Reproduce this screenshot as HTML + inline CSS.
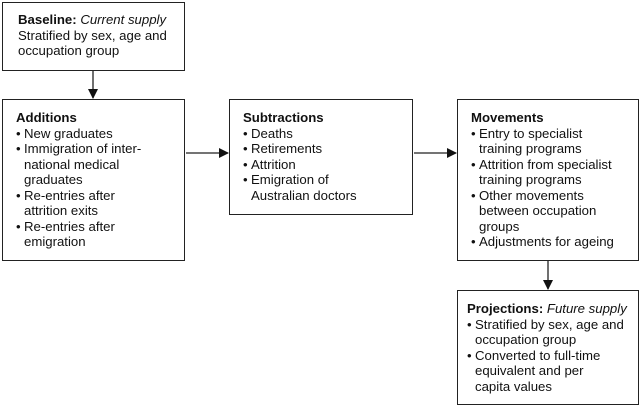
<!DOCTYPE html>
<html><head><style>
body{margin:0;width:640px;height:406px;background:#fff;position:relative;font-family:"Liberation Sans",Arial,sans-serif;font-size:13.2px;color:#111;overflow:hidden}
.b{position:absolute;border:1.3px solid #222;box-sizing:border-box;line-height:15.5px;padding:0 0 0 13px;white-space:nowrap}
.b p{margin:0}
ul{margin:0;padding:0;list-style:none}
li{padding-left:8px;text-indent:-8px}
li:before{content:"\2022";display:inline-block;width:8px;text-indent:0}
svg{position:absolute;left:0;top:0}
</style></head><body>
<svg width="640" height="406">
<defs><marker id="a" markerWidth="10" markerHeight="10" refX="9" refY="5" orient="auto" markerUnits="userSpaceOnUse"><path d="M0,0 L10,5 L0,10 z" fill="#111"/></marker></defs>
<g stroke="#222" stroke-width="1.3">
<line x1="93" y1="70" x2="93" y2="98" marker-end="url(#a)"/>
<line x1="186" y1="153" x2="228" y2="153" marker-end="url(#a)"/>
<line x1="414" y1="153" x2="456" y2="153" marker-end="url(#a)"/>
<line x1="548" y1="261" x2="548" y2="289" marker-end="url(#a)"/>
</g></svg>
<div class="b" style="left:2px;top:2px;width:183px;height:69px;padding-top:9px;padding-left:15px"><p><b>Baseline:</b> <i>Current supply</i></p><p>Stratified by sex, age and<br>occupation group</p></div>
<div class="b" style="left:2px;top:99px;width:183px;height:162px;padding-top:10px"><p><b>Additions</b></p><ul><li>New graduates</li><li>Immigration of inter-<br>national medical<br>graduates</li><li>Re-entries after<br>attrition exits</li><li>Re-entries after<br>emigration</li></ul></div>
<div class="b" style="left:229px;top:99px;width:184px;height:116px;padding-top:10px"><p><b>Subtractions</b></p><ul><li>Deaths</li><li>Retirements</li><li>Attrition</li><li>Emigration of<br>Australian doctors</li></ul></div>
<div class="b" style="left:457px;top:99px;width:182px;height:162px;padding-top:10px"><p><b>Movements</b></p><ul><li>Entry to specialist<br>training programs</li><li>Attrition from specialist<br>training programs</li><li>Other movements<br>between occupation<br>groups</li><li>Adjustments for ageing</li></ul></div>
<div class="b" style="left:457px;top:290px;width:182px;height:115px;padding-top:10px;padding-left:9px"><p><b>Projections:</b> <i>Future supply</i></p><ul><li>Stratified by sex, age and<br>occupation group</li><li>Converted to full-time<br>equivalent and per<br>capita values</li></ul></div>
</body></html>
